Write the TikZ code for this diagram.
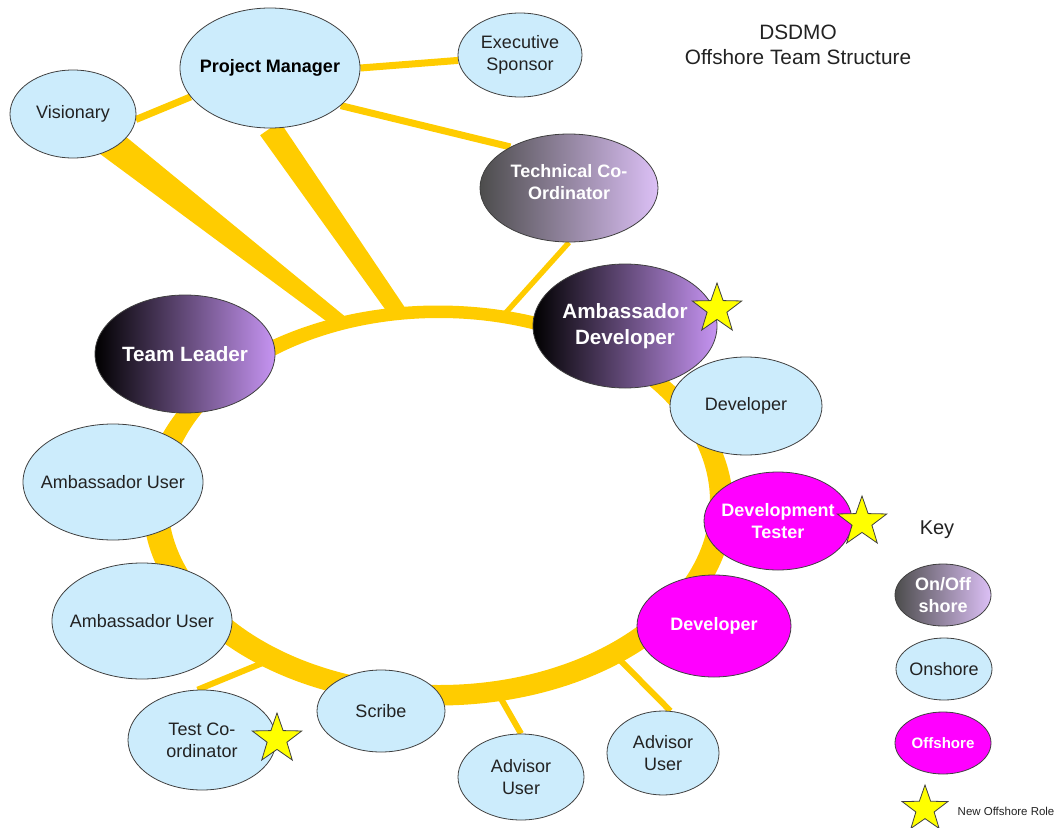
\documentclass[tikz,border=0pt]{standalone}
\usepackage{fontspec}
\setmainfont{Liberation Sans}
\usepackage{xcolor}
\usetikzlibrary{shapes.geometric,calc,backgrounds}

\definecolor{skyfill}{RGB}{204,236,252}
\definecolor{ringc}{RGB}{255,204,0}
\definecolor{lilac}{RGB}{198,148,242}
\definecolor{lavender}{RGB}{220,192,246}
\definecolor{hotpink}{RGB}{255,0,255}
\definecolor{staryellow}{RGB}{255,255,0}
\definecolor{ink}{RGB}{34,34,34}

\begin{document}
\begin{tikzpicture}[x=0.75pt,y=0.75pt,yscale=-1,xscale=1,
  role/.style={ellipse, draw=black!75, line width=0.6pt, inner sep=0pt},
  onshore/.style={role, fill=skyfill},
  offshore/.style={role, fill=hotpink},
  mixed/.style={role, left color=black, right color=lilac},
  mixedgrey/.style={role, left color=black!70, right color=lavender},
  txt/.style={font=\fontsize{13.5}{16.5}\selectfont, text=ink, align=center},
  wtxt/.style={font=\fontsize{13.5}{16.5}\selectfont\bfseries, text=white, align=center},
  bigtxt/.style={font=\fontsize{15.5}{19.5}\selectfont\bfseries, text=white, align=center},
  newrole/.style={star, star points=5, star point ratio=2.5, minimum size=39pt, inner sep=0pt, fill=staryellow, draw=black!75, line width=0.6pt},
  spoke/.style={draw=ringc, line width=5.25pt},
]
\useasboundingbox (0,0) rectangle (1057,828);

% Title
\node[font=\fontsize{15.6}{18.75}\selectfont, text=ink, align=center] (title) at (798,45) {DSDMO\\Offshore Team Structure};

%Shape: Ellipse (roles, top)
\node[onshore, minimum width=94.5pt, minimum height=66pt, label={[txt]center:Visionary}] (vis) at (73,114) {};
\node[onshore, minimum width=135pt, minimum height=90pt, label={[txt, font=\fontsize{13.5}{16.5}\selectfont\bfseries, text=black]center:Project Manager}] (pm) at (270,68) {};
\node[onshore, minimum width=93pt, minimum height=63pt, label={[txt]center:{Executive\\Sponsor}}] (exec) at (520,55) {};
\node[mixedgrey, minimum width=133.5pt, minimum height=81pt, label={[wtxt, yshift=4.5pt]center:{Technical Co-\\Ordinator}}] (tech) at (569,188) {};

%Shape: Ellipse (roles, round the ring)
\node[mixed, minimum width=135pt, minimum height=88.5pt, label={[bigtxt]center:Team Leader}] (tl) at (185,354) {};
\node[mixed, minimum width=138pt, minimum height=93pt, label={[bigtxt]center:{Ambassador\\Developer}}] (ambdev) at (625,326) {};
\node[onshore, minimum width=114pt, minimum height=73.5pt, label={[txt]center:Developer}] (dev) at (746,406) {};
\node[offshore, minimum width=111pt, minimum height=73.5pt, label={[wtxt]center:{Development\\Tester}}] (devtest) at (778,521) {};
\node[offshore, minimum width=115.5pt, minimum height=76.5pt, label={[wtxt]center:Developer}] (devoff) at (714,626) {};
\node[onshore, minimum width=84pt, minimum height=63pt, label={[txt]center:{Advisor\\User}}] (advR) at (663,753) {};
\node[onshore, minimum width=94.5pt, minimum height=64.5pt, label={[txt]center:{Advisor\\User}}] (advB) at (521,777) {};
\node[onshore, minimum width=96pt, minimum height=61.5pt, label={[txt]center:Scribe}] (scribe) at (381,711) {};
\node[onshore, minimum width=111pt, minimum height=75pt, label={[txt]center:{Test Co-\\ordinator}}] (testco) at (202,740) {};
\node[onshore, minimum width=135pt, minimum height=87pt, label={[txt]center:Ambassador User}] (ambU2) at (142,621) {};
\node[onshore, minimum width=135pt, minimum height=87pt, label={[txt]center:Ambassador User}] (ambU1) at (113,482) {};

% Stars for new offshore roles
\node[newrole] (star1) at (717,309) {};
\node[newrole] (star2) at (862,522) {};
\node[newrole] (star3) at (277,739) {};

% Key
\node[font=\fontsize{15}{18}\selectfont, text=ink] (key) at (937,530) {Key};
\node[mixedgrey, minimum width=72pt, minimum height=46.5pt, label={[wtxt]center:{On/Off\\shore}}] (keymix) at (943,595) {};
\node[onshore, minimum width=72pt, minimum height=46.5pt, label={[txt]center:Onshore}] (keyon) at (944,669) {};
\node[offshore, minimum width=72pt, minimum height=46.5pt, label={[wtxt, font=\fontsize{11.3}{13}\selectfont\bfseries]center:Offshore}] (keyoff) at (943,743) {};
\node[newrole, minimum size=36pt] (keystar) at (925,809) {};
\node[font=\fontsize{8.6}{10}\selectfont, text=ink, anchor=west] (keytext) at (953,811) {New Offshore Role};

% Points where the spokes meet the ring
\coordinate (r-vis) at (340,322);
\coordinate (r-pm) at (399,314);
\coordinate (r-tech) at (502,317);
\coordinate (r-test) at (265,662);
\coordinate (r-advB) at (496,690);
\coordinate (r-advR) at (617,657);

\begin{scope}[on background layer]
%Ring
\fill[ringc, even odd rule] (438,505.5) ellipse [x radius=295, y radius=200] (439,501.5) ellipse [x radius=271, y radius=183.5];
%Thick spokes
\fill[ringc] ($(vis)!12pt!90:(r-vis)$) -- ($(r-vis)!5.6pt!-90:(vis)$) -- ($(r-vis)!5.6pt!90:(vis)$) -- ($(vis)!12pt!-90:(r-vis)$) -- cycle;
\fill[ringc] ($(pm.south)!9pt!90:(r-pm)$) -- ($(r-pm)!6.4pt!-90:(pm.south)$) -- ($(r-pm)!6.4pt!90:(pm.south)$) -- ($(pm.south)!9pt!-90:(r-pm)$) -- cycle;
%Thin spokes
\draw[spoke] (vis.-5) -- (pm.200);
\draw[spoke] (pm.0) -- (exec.185);
\draw[spoke] (pm.-28) -- (tech.145);
\draw[spoke, line width=4pt] (tech.south) -- (r-tech);
\draw[spoke, line width=4.5pt] (testco.95) -- (r-test);
\draw[spoke, line width=4.5pt] (advB.north) -- (r-advB);
\draw[spoke, line width=4.5pt] (advR.80) -- (r-advR);
\end{scope}

\end{tikzpicture}
\end{document}
